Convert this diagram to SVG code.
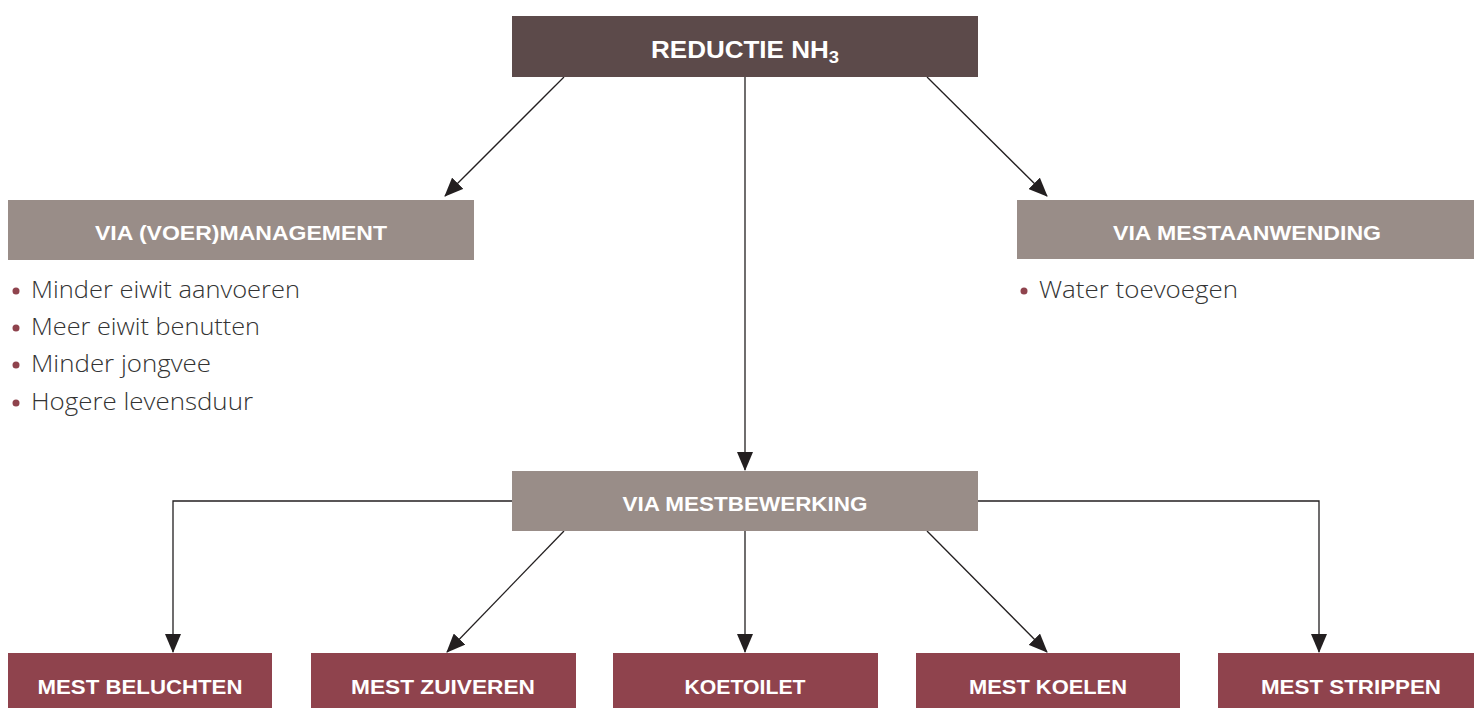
<svg xmlns="http://www.w3.org/2000/svg" width="1474" height="708" viewBox="0 0 1474 708">
<style>
.hdr{font-family:"Liberation Sans",Arial,sans-serif;font-weight:bold;fill:#ffffff;text-anchor:middle}
.body{font-family:"Open Sans","Liberation Sans",sans-serif;font-weight:300;font-size:23px;fill:#333333}
.dark{fill:#5c4a4a}
.grey{fill:#998d88}
.red{fill:#8f434d}
.bullet{fill:#8f434d}
.conn{stroke:#231f20;stroke-width:1.3;fill:none;marker-end:url(#arr)}
</style>
<defs>
<marker id="arr" markerUnits="userSpaceOnUse" markerWidth="19" markerHeight="16" viewBox="0 0 19 16" refX="18" refY="8" orient="auto">
<path d="M0,0 L19,8 L0,16 Z" fill="#231f20"/>
</marker>
</defs>
<rect width="1474" height="708" fill="#ffffff"/>
<g id="connectors">
<path class="conn" d="M564,77 L445,196"/>
<path class="conn" d="M927,77 L1047,196"/>
<path class="conn" d="M745,77 L745,470"/>
<path class="conn" d="M512,501 L173,501 L173,652"/>
<path class="conn" d="M564,531 L447,652"/>
<path class="conn" d="M745,531 L745,652"/>
<path class="conn" d="M927,531 L1047,652"/>
<path class="conn" d="M978,501 L1319,501 L1319,652"/>
</g>
<g id="reductie">
<rect class="dark" x="512" y="16" width="466" height="61"/>
<text class="hdr" x="745" y="58" font-size="24" textLength="188" lengthAdjust="spacingAndGlyphs">REDUCTIE NH<tspan font-size="17" dy="5">3</tspan></text>
</g>
<g id="voermanagement">
<rect class="grey" x="8" y="200" width="466" height="60"/>
<text class="hdr" x="241" y="240" font-size="21" textLength="292" lengthAdjust="spacingAndGlyphs">VIA (VOER)MANAGEMENT</text>
<circle class="bullet" cx="16" cy="291" r="3.5"/>
<text class="body" x="31" y="298" textLength="269" lengthAdjust="spacingAndGlyphs">Minder eiwit aanvoeren</text>
<circle class="bullet" cx="16" cy="328" r="3.5"/>
<text class="body" x="31" y="335" textLength="229" lengthAdjust="spacingAndGlyphs">Meer eiwit benutten</text>
<circle class="bullet" cx="16" cy="365" r="3.5"/>
<text class="body" x="31" y="372" textLength="180" lengthAdjust="spacingAndGlyphs">Minder jongvee</text>
<circle class="bullet" cx="16" cy="403" r="3.5"/>
<text class="body" x="31" y="410" textLength="222" lengthAdjust="spacingAndGlyphs">Hogere levensduur</text>
</g>
<g id="mestaanwending">
<rect class="grey" x="1017" y="200" width="457" height="59"/>
<text class="hdr" x="1247" y="240" font-size="21" textLength="268" lengthAdjust="spacingAndGlyphs">VIA MESTAANWENDING</text>
<circle class="bullet" cx="1024" cy="291" r="3.5"/>
<text class="body" x="1039" y="298" textLength="199" lengthAdjust="spacingAndGlyphs">Water toevoegen</text>
</g>
<g id="mestbewerking">
<rect class="grey" x="512" y="471" width="466" height="60"/>
<text class="hdr" x="745" y="511" font-size="21" textLength="245" lengthAdjust="spacingAndGlyphs">VIA MESTBEWERKING</text>
</g>
<g id="beluchten">
<rect class="red" x="8" y="653" width="264" height="55"/>
<text class="hdr" x="140" y="694" font-size="21" textLength="205" lengthAdjust="spacingAndGlyphs">MEST BELUCHTEN</text>
</g>
<g id="zuiveren">
<rect class="red" x="311" y="653" width="265" height="55"/>
<text class="hdr" x="443" y="694" font-size="21" textLength="184" lengthAdjust="spacingAndGlyphs">MEST ZUIVEREN</text>
</g>
<g id="koetoilet">
<rect class="red" x="613" y="653" width="265" height="55"/>
<text class="hdr" x="745" y="694" font-size="21" textLength="121" lengthAdjust="spacingAndGlyphs">KOETOILET</text>
</g>
<g id="koelen">
<rect class="red" x="916" y="653" width="264" height="55"/>
<text class="hdr" x="1048" y="694" font-size="21" textLength="158" lengthAdjust="spacingAndGlyphs">MEST KOELEN</text>
</g>
<g id="strippen">
<rect class="red" x="1218" y="653" width="256" height="55"/>
<text class="hdr" x="1351" y="694" font-size="21" textLength="180" lengthAdjust="spacingAndGlyphs">MEST STRIPPEN</text>
</g>
</svg>
